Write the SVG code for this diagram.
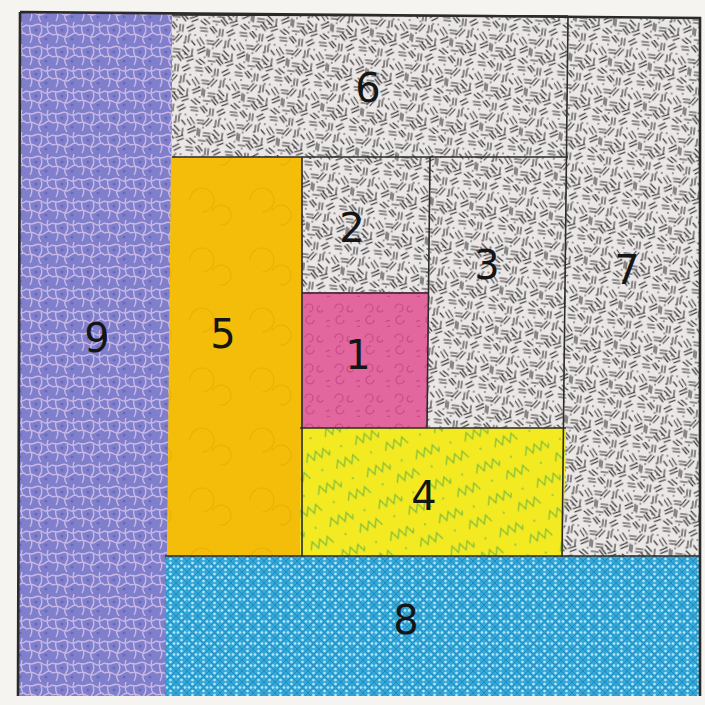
<svg xmlns="http://www.w3.org/2000/svg" width="705" height="705" viewBox="0 0 705 705">
<style>
.seam{stroke:#2a2a2a;stroke-width:1.6;fill:none}
.lbl{font-family:"DejaVu Sans","Liberation Sans",sans-serif;font-size:40px;fill:#151515;text-anchor:middle;dominant-baseline:central}
</style>
<defs>
<pattern id="dash" width="40" height="40" patternUnits="userSpaceOnUse" patternTransform="rotate(7)">
<rect width="40" height="40" fill="#ebe7e6"/>
<g stroke="#333" stroke-width="1.1" stroke-linecap="round">
<path d="M2 3l7 0M3 6l7 0M12 2l5 5M14 0l5 5M22 2l0 7M25 2l0 7M29 5l6-4M31 8l6-4M3 13l5 6M0 15l5 6M10 15l7 0M11 18l7 0M22 12l-5 7M25 13l-5 7M29 13l0 7M32 12l0 7M35 17l4 4M2 26l7-4M3 29l7-4M12 23l0 7M14 24l0 7M18 27l7 0M18 30l7 0M28 23l6 5M27 27l6 5M37 25l0 7M5 34l6 4M2 36l6 4M14 35l7 0M22 33l5 5M24 31l5 5M31 35l7-3M33 38l6-3"/>
</g>
<g fill="#333">
<circle cx="9" cy="10" r="0.8"/><circle cx="20" cy="10" r="0.8"/><circle cx="33" cy="11" r="0.8"/><circle cx="8" cy="22" r="0.8"/><circle cx="17" cy="22" r="0.8"/><circle cx="38" cy="11" r="0.8"/><circle cx="10" cy="32" r="0.8"/><circle cx="28" cy="20" r="0.8"/><circle cx="30" cy="31" r="0.8"/><circle cx="18" cy="38" r="0.8"/>
</g>
</pattern>
<pattern id="purp" width="26" height="22" patternUnits="userSpaceOnUse">
<rect width="26" height="22" fill="#7f7fcb"/>
<path d="M0 3q5 2 9 0t8 1 9-1M4 3q-1 5 1 9t-1 9M15 4q2 5-1 9t1 9M0 13q6-2 10 1t9-1 7 0M22 0q-2 6 1 11" stroke="#c9b8e6" stroke-width="1.4" fill="none"/>
<circle cx="10" cy="8" r="1.5" fill="#6868b8"/><circle cx="20" cy="17" r="1.6" fill="#6a6aba"/>
</pattern>
<pattern id="blue" width="11" height="11" patternUnits="userSpaceOnUse">
<rect width="11" height="11" fill="#35a8d8"/>
<path d="M0 0l11 11M11 0l-11 11" stroke="#1e8cc4" stroke-width="1"/>
<circle cx="5.5" cy="2" r="1.3" fill="#b6e6f6"/><circle cx="5.5" cy="9" r="1.3" fill="#b6e6f6"/><circle cx="2" cy="5.5" r="1.3" fill="#b6e6f6"/><circle cx="9" cy="5.5" r="1.3" fill="#b6e6f6"/>
</pattern>
<pattern id="zig" width="52" height="34" patternUnits="userSpaceOnUse" patternTransform="rotate(-20)">
<rect width="52" height="34" fill="#f3ea22"/>
<path d="M0 12l4-8 4 8 4-8 4 8 4-8 4 8M26 30l4-8 4 8 4-8 4 8 4-8 4 8 4-8" stroke="#86c03a" stroke-width="1.3" fill="none"/>
<circle cx="38" cy="8" r="1.2" fill="#a8cc3a"/><circle cx="12" cy="26" r="1.2" fill="#a8cc3a"/>
</pattern>
<pattern id="pink" width="30" height="30" patternUnits="userSpaceOnUse">
<rect width="30" height="30" fill="#e2679e"/>
<path d="M5 8a4 4 0 1 1 4 4M20 6a3 3 0 1 0 3 4M14 20a4 4 0 1 1-3-4M26 22a3 3 0 1 1 1 4" stroke="#c94a88" stroke-width="1.2" fill="none"/>
</pattern>
<pattern id="gold" width="60" height="60" patternUnits="userSpaceOnUse">
<rect width="60" height="60" fill="#f3bd0a"/>
<path d="M10 20a12 12 0 1 1 12 12M40 45a10 10 0 1 0-8-14" stroke="#e9b102" stroke-width="1.1" fill="none"/>
</pattern>
</defs>
<rect width="705" height="705" fill="#f5f4f1"/>
<g id="piece9"><polygon points="20,12 173,12 166,696 18,696" fill="url(#purp)"/><text class="lbl" x="97" y="338">9</text></g>
<g id="piece6"><polygon points="172,14 569,16 568,157 172,157" fill="url(#dash)"/><text class="lbl" x="368" y="88">6</text></g>
<g id="piece7"><polygon points="568,16 700,18 700,557 562,557" fill="url(#dash)"/><text class="lbl" x="627" y="270">7</text></g>
<g id="piece3"><polygon points="429,157 568,157 566,429 427,429" fill="url(#dash)"/><text class="lbl" x="487" y="265">3</text></g>
<g id="piece2"><rect x="301" y="157" width="129" height="136" fill="url(#dash)"/><text class="lbl" x="352" y="228">2</text></g>
<g id="piece1"><polygon points="301,292 429,292 427,429 301,429" fill="url(#pink)"/><text class="lbl" x="358" y="355">1</text></g>
<g id="piece5"><polygon points="171,157 302,157 301,557 167,557" fill="url(#gold)"/><text class="lbl" x="223" y="334">5</text></g>
<g id="piece4"><polygon points="301,428 566,428 563,557 300,557" fill="url(#zig)"/><text class="lbl" x="424" y="496">4</text></g>
<g id="piece8"><polygon points="166,556 700,556 700,696 165,696" fill="url(#blue)"/><text class="lbl" x="406" y="620">8</text></g>
<g id="seams" class="seam">
<path d="M172 15L568 16M172 157H568M568 16L562 557M430 157L427 428M302 157V556M302 293H429M300 428H566M165 556H700"/>
<path d="M20 12L700 18L700 696M20 12L18 696" stroke-width="2.6"/>
</g>
</svg>
